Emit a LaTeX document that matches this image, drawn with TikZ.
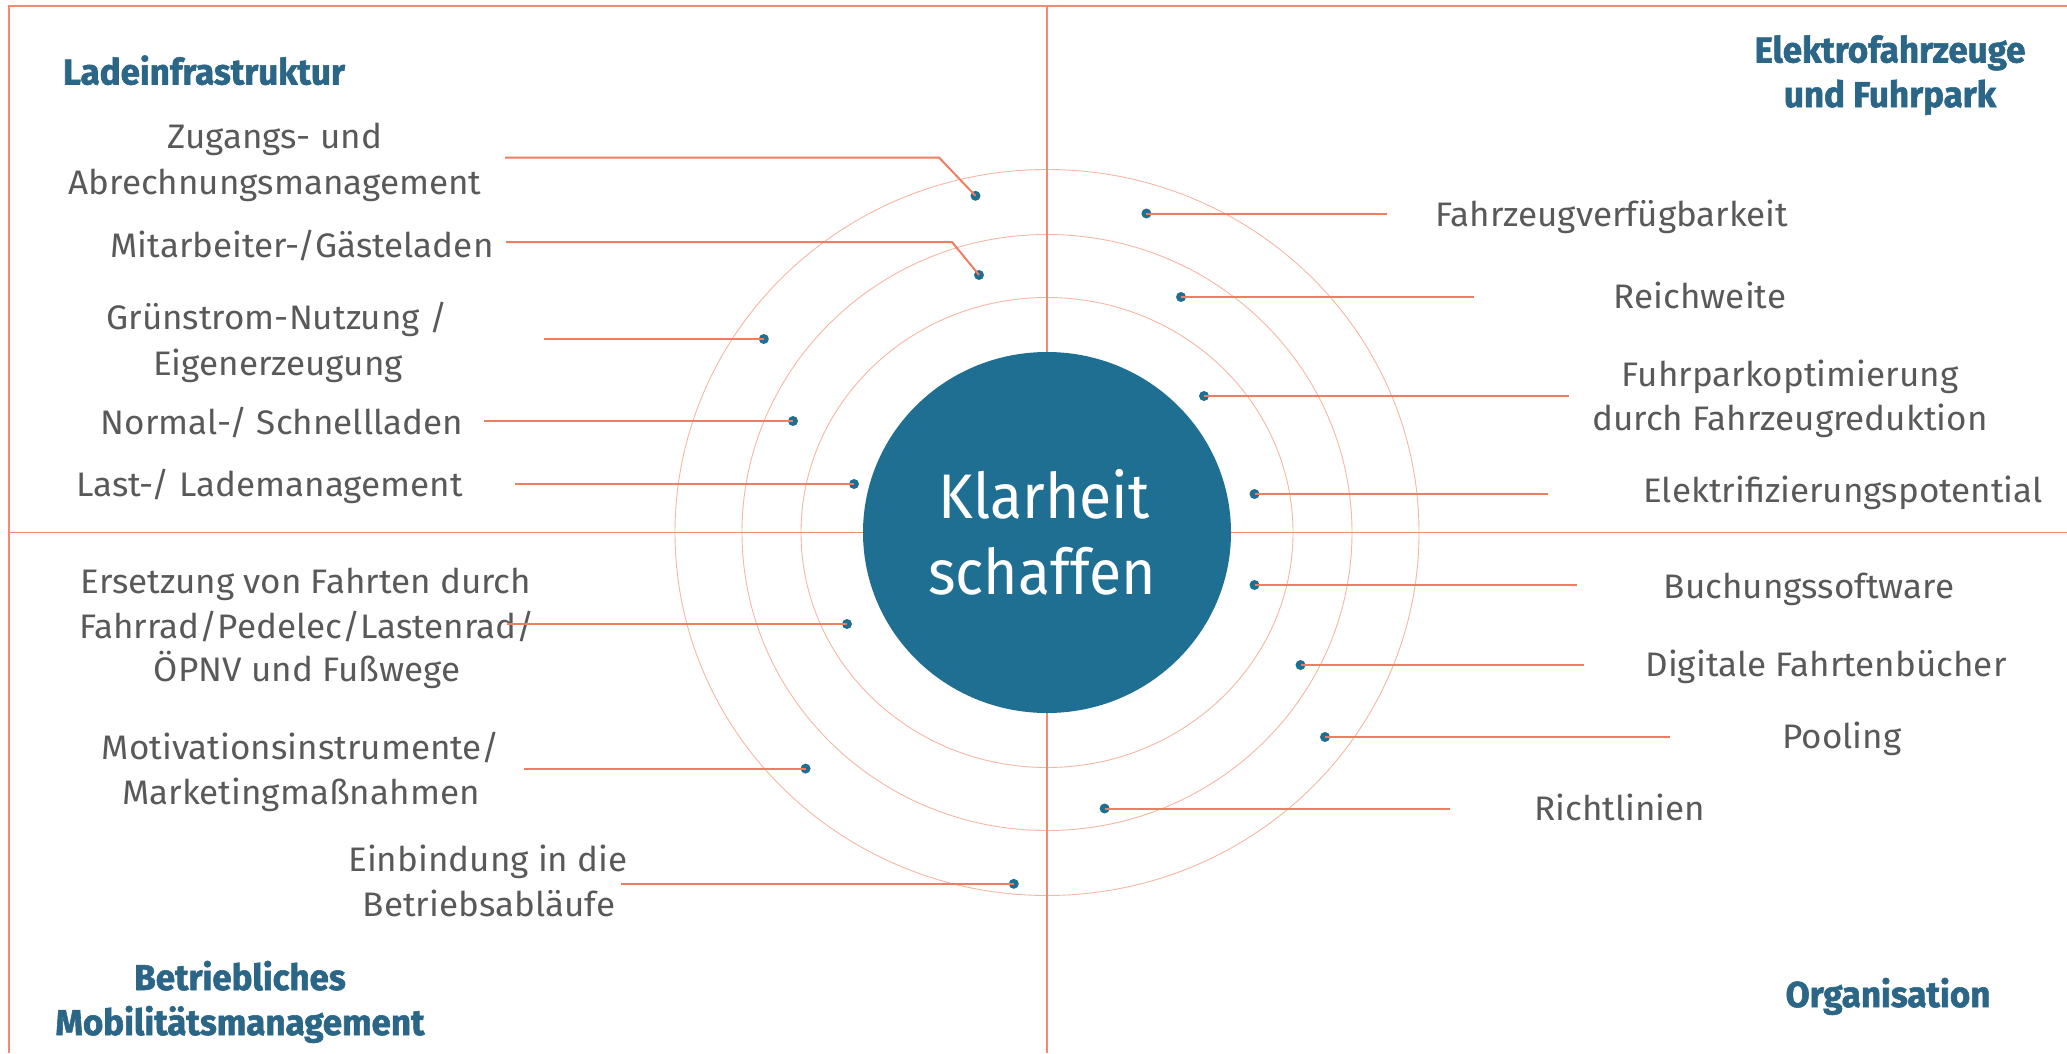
\documentclass[tikz,border=0pt]{standalone}
\usepackage{fontspec}
\setmainfont{Fira Sans}
\newfontfamily\bodyf{Fira Sans}[FakeStretch=1.03]
\newfontfamily\headf{Fira Sans}[FakeStretch=0.97, FakeBold=1.6]
\newfontfamily\centf{Fira Sans}[FakeStretch=0.935]
\usetikzlibrary{shapes.geometric}
\definecolor{frameC}{HTML}{F08A70}
\definecolor{ringC}{HTML}{F6B6A4}
\definecolor{connC}{HTML}{EE7D62}
\definecolor{blueC}{HTML}{1F6F93}
\definecolor{headC}{HTML}{2B6687}
\definecolor{txtC}{HTML}{595959}
\tikzset{
  frameline/.style={draw=frameC, line width=1.5pt},
  ringline/.style={draw=ringC, line width=0.9pt},
  conn/.style={draw=connC, line width=2pt},
  dotnode/.style={circle, fill=blueC, inner sep=0pt, minimum size=10pt},
  lbl/.style={anchor=base, inner sep=0pt, text=txtC, font=\bodyf\fontsize{34}{40}\selectfont},
  head/.style={anchor=base, inner sep=0pt, text=headC, font=\headf\bfseries\fontsize{36}{44}\selectfont},
  centre/.style={anchor=base, inner sep=0pt, text=white, font=\centf\fontsize{63}{70}\selectfont},
}
\begin{document}
\begin{tikzpicture}[x=1pt,y=-1pt]
\useasboundingbox (0,0) rectangle (2067,1053);
% rings
\draw[ringline] (1047,532.5) ellipse [x radius=246, y radius=235];
\draw[ringline] (1047,532.5) ellipse [x radius=305, y radius=298];
\draw[ringline] (1047,532.5) ellipse [x radius=372, y radius=363];
% frame and cross
\draw[frameline] (9,1053) -- (9,6) -- (2067,6);
\draw[frameline] (9,532.5) -- (2067,532.5);
\draw[frameline] (1047,6) -- (1047,1053);
% core
\node[ellipse, fill=blueC, minimum width=368pt, minimum height=361pt, inner sep=0pt] (core) at (1047,532.5) {};
\node[centre] (k1) at (1044,518) {Klarheit};
\node[centre] (k2) at (1042,594) {schaffen};
% headings
\node[head] (h1) at (204,84.5) {Ladeinfrastruktur};
\node[head] (h2a) at (1890,62.5) {Elektrofahrzeuge};
\node[head] (h2b) at (1890,107) {und Fuhrpark};
\node[head] (h3a) at (240,990) {Betriebliches};
\node[head] (h3b) at (240,1035) {Mobilitätsmanagement};
\node[head] (h4) at (1888,1007) {Organisation};
% labels
\node[lbl] (t1a) at (275,148.6) {Zugangs- und};
\node[lbl] (t1b) at (275,194) {Abrechnungsmanagement};
\node[lbl] (t2) at (302,257) {Mitarbeiter-/Gästeladen};
\node[lbl] (t3a) at (277,329) {Grünstrom-Nutzung /};
\node[lbl] (t3b) at (278,375) {Eigenerzeugung};
\node[lbl] (t4) at (282,434) {Normal-/ Schnellladen};
\node[lbl] (t5) at (269.5,496.6) {Last-/ Lademanagement};
\node[lbl] (t6a) at (306,593) {Ersetzung von Fahrten durch};
\node[lbl] (t6b) at (307,638) {Fahrrad/Pedelec/Lastenrad/};
\node[lbl] (t6c) at (307,681.7) {ÖPNV und Fußwege};
\node[lbl] (t7a) at (301,759) {Motivationsinstrumente/};
\node[lbl] (t7b) at (301,804) {Marketingmaßnahmen};
\node[lbl] (t8a) at (488,871.7) {Einbindung in die};
\node[lbl] (t8b) at (489,916.7) {Betriebsabläufe};
\node[lbl] (t9) at (1612,226) {Fahrzeugverfügbarkeit};
\node[lbl] (t10) at (1700,308) {Reichweite};
\node[lbl] (t11a) at (1790,386) {Fuhrparkoptimierung};
\node[lbl] (t11b) at (1790,430.7) {durch Fahrzeugreduktion};
\node[lbl] (t12) at (1843,502.7) {Elektrifizierungspotential};
\node[lbl] (t13) at (1809,598) {Buchungssoftware};
\node[lbl] (t14) at (1826,676.7) {Digitale Fahrtenbücher};
\node[lbl] (t15) at (1842,748) {Pooling};
\node[lbl] (t16) at (1620,820) {Richtlinien};
% dots
\node[dotnode] (d1) at (975.5,195.8) {};
\node[dotnode] (d2) at (979,275) {};
\node[dotnode] (d3) at (763.8,339) {};
\node[dotnode] (d4) at (793,421) {};
\node[dotnode] (d5) at (854,484) {};
\node[dotnode] (d6) at (847,624) {};
\node[dotnode] (d7) at (805.6,768.6) {};
\node[dotnode] (d8) at (1013.8,883.8) {};
\node[dotnode] (d9) at (1146.4,213.5) {};
\node[dotnode] (d10) at (1181,297) {};
\node[dotnode] (d11) at (1204,396) {};
\node[dotnode] (d12) at (1254.5,494) {};
\node[dotnode] (d13) at (1254.5,585) {};
\node[dotnode] (d14) at (1300.5,665) {};
\node[dotnode] (d15) at (1325,737) {};
\node[dotnode] (d16) at (1104.6,808.5) {};
% connector ends
\coordinate (c1) at (505,157.5); \coordinate (e1) at (939,157.5);
\coordinate (c2) at (506,242);   \coordinate (e2) at (952,242);
\coordinate (c3) at (544,339);
\coordinate (c4) at (484,421);
\coordinate (c5) at (515,484);
\coordinate (c6) at (507,624);
\coordinate (c7) at (524,768.6);
\coordinate (c8) at (621,883.8);
\coordinate (c9) at (1387,213.5);
\coordinate (c10) at (1474,297);
\coordinate (c11) at (1568.7,396);
\coordinate (c12) at (1547.6,494);
\coordinate (c13) at (1577,585);
\coordinate (c14) at (1583.7,665);
\coordinate (c15) at (1670,737);
\coordinate (c16) at (1449.7,808.5);
% connectors
\draw[conn] (c1) -- (e1) -- (d1.center);
\draw[conn] (c2) -- (e2) -- (d2.center);
\draw[conn] (c3) -- (d3.center);
\draw[conn] (c4) -- (d4.center);
\draw[conn] (c5) -- (d5.center);
\draw[conn] (c6) -- (d6.center);
\draw[conn] (c7) -- (d7.center);
\draw[conn] (c8) -- (d8.center);
\draw[conn] (d9.center) -- (c9);
\draw[conn] (d10.center) -- (c10);
\draw[conn] (d11.center) -- (c11);
\draw[conn] (d12.center) -- (c12);
\draw[conn] (d13.center) -- (c13);
\draw[conn] (d14.center) -- (c14);
\draw[conn] (d15.center) -- (c15);
\draw[conn] (d16.center) -- (c16);
\end{tikzpicture}
\end{document}
